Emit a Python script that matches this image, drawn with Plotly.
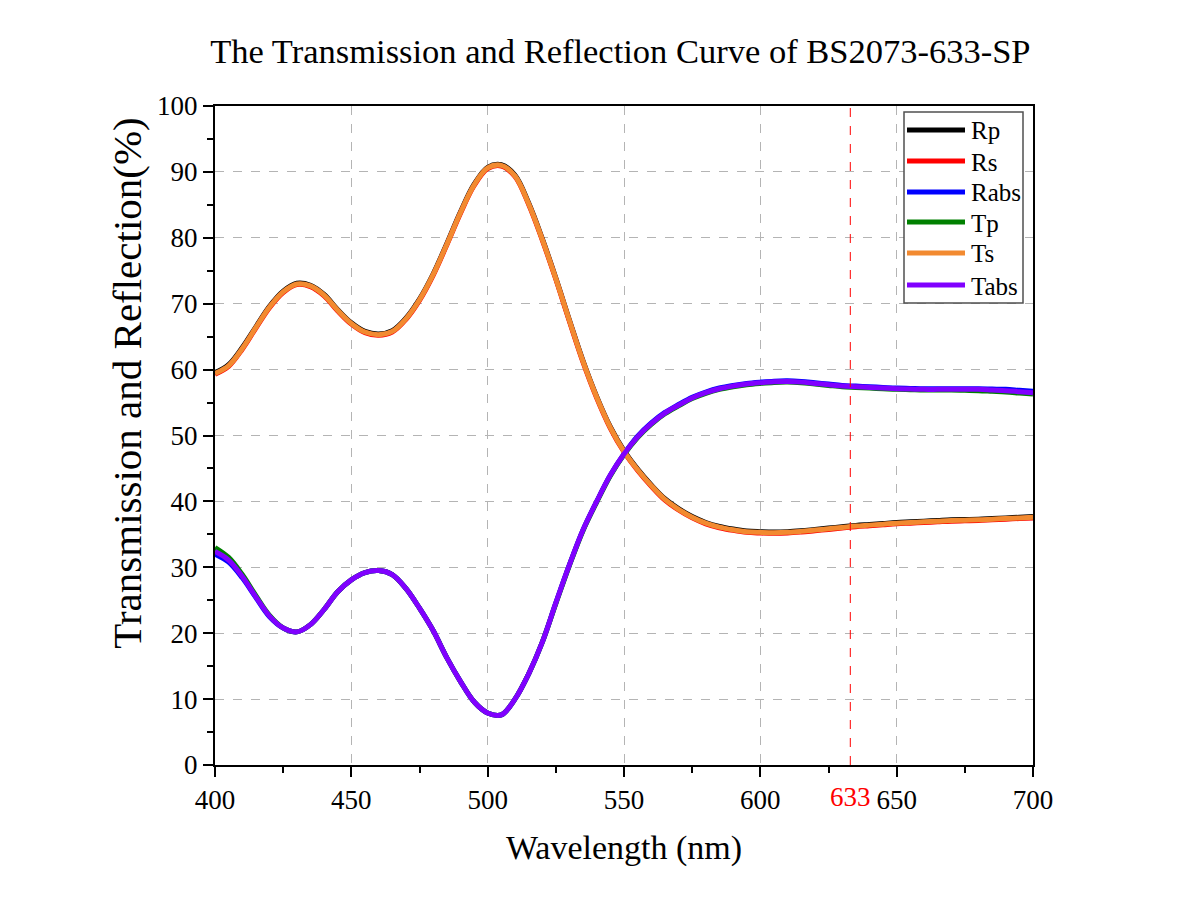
import plotly.graph_objects as go

wavelength = list(range(400, 701, 5))

Ts = [59.4, 60.6, 63.2, 66.4, 69.5, 71.8, 73.0, 72.7, 71.3, 69.0,
      67.0, 65.7, 65.3, 65.8, 67.7, 70.6, 74.4, 79.0, 83.8, 88.0,
      90.6, 91.0, 89.4, 85.2, 79.8, 73.8, 67.4, 61.2, 55.8, 51.2,
      47.6, 44.8, 42.4, 40.3, 38.8, 37.6, 36.7, 36.1, 35.7, 35.4,
      35.3, 35.25, 35.3, 35.45, 35.65, 35.85, 36.05, 36.25, 36.4, 36.55,
      36.7, 36.8, 36.9, 37.0, 37.1, 37.15, 37.2, 37.3, 37.4, 37.5, 37.6]
Rp = [59.5, 60.75, 63.35, 66.5, 69.6, 71.9, 73.1, 72.8, 71.4, 69.1,
      67.1, 65.8, 65.4, 65.9, 67.8, 70.7, 74.5, 79.1, 83.9, 88.1,
      90.7, 91.1, 89.5, 85.3, 79.9, 73.9, 67.5, 61.3, 55.9, 51.3,
      47.7, 44.9, 42.5, 40.4, 38.9, 37.7, 36.8, 36.2, 35.8, 35.5,
      35.4, 35.35, 35.4, 35.55, 35.75, 35.95, 36.15, 36.35, 36.5, 36.65,
      36.8, 36.9, 37.0, 37.1, 37.2, 37.25, 37.3, 37.4, 37.5, 37.6, 37.7]
Rs = [59.3, 60.5, 63.1, 66.3, 69.4, 71.7, 72.9, 72.6, 71.2, 68.9,
      66.9, 65.6, 65.2, 65.7, 67.6, 70.5, 74.3, 78.9, 83.7, 87.9,
      90.5, 90.9, 89.3, 85.1, 79.7, 73.7, 67.3, 61.1, 55.7, 51.1,
      47.5, 44.7, 42.3, 40.2, 38.7, 37.5, 36.6, 36.0, 35.6, 35.3,
      35.2, 35.15, 35.2, 35.35, 35.55, 35.75, 35.95, 36.15, 36.3, 36.45,
      36.6, 36.7, 36.8, 36.9, 37.0, 37.05, 37.1, 37.2, 37.3, 37.4, 37.5]

Tabs = [32.4, 31.1, 28.6, 25.5, 22.6, 20.8, 20.2, 21.3, 23.6, 26.3,
        28.1, 29.2, 29.5, 28.9, 26.8, 23.8, 20.4, 16.3, 12.7, 9.6,
        7.9, 7.6, 10.0, 13.8, 18.6, 24.6, 30.4, 35.7, 40.0, 44.0,
        47.2, 49.8, 51.8, 53.4, 54.6, 55.7, 56.5, 57.1, 57.5, 57.8,
        58.0, 58.15, 58.2, 58.1, 57.9, 57.7, 57.5, 57.4, 57.3, 57.2,
        57.1, 57.05, 57.0, 57.0, 57.0, 57.0, 57.0, 56.9, 56.8, 56.65, 56.5]
Tp = [33.0, 31.5, 28.9, 25.7, 22.7, 20.8, 20.2, 21.3, 23.6, 26.3,
      28.1, 29.2, 29.5, 28.9, 26.8, 23.8, 20.4, 16.3, 12.7, 9.6,
      7.9, 7.6, 10.0, 13.8, 18.6, 24.5, 30.3, 35.6, 39.9, 43.9,
      47.1, 49.7, 51.7, 53.3, 54.5, 55.6, 56.4, 57.0, 57.4, 57.7,
      57.9, 58.05, 58.1, 58.0, 57.8, 57.6, 57.4, 57.3, 57.2, 57.1,
      57.0, 56.95, 56.9, 56.9, 56.9, 56.85, 56.8, 56.7, 56.6, 56.45, 56.3]
Rabs = [32.0, 30.8, 28.4, 25.4, 22.5, 20.8, 20.2, 21.3, 23.6, 26.3,
        28.1, 29.2, 29.5, 28.9, 26.8, 23.8, 20.4, 16.3, 12.7, 9.6,
        7.9, 7.6, 10.0, 13.8, 18.6, 24.6, 30.4, 35.7, 40.0, 44.0,
        47.2, 49.9, 51.9, 53.5, 54.7, 55.8, 56.6, 57.2, 57.6, 57.9,
        58.1, 58.25, 58.3, 58.2, 58.0, 57.8, 57.6, 57.5, 57.4, 57.3,
        57.2, 57.15, 57.1, 57.1, 57.1, 57.1, 57.1, 57.05, 57.0, 56.85, 56.7]

series = [
    ("Rp", Rp, "#000000"),
    ("Rs", Rs, "#ff0000"),
    ("Rabs", Rabs, "#0000ff"),
    ("Tp", Tp, "#008000"),
    ("Ts", Ts, "#f28a30"),
    ("Tabs", Tabs, "#8000ff"),
]

x_ticks = [400, 450, 500, 550, 600, 650, 700]
y_ticks = [0, 10, 20, 30, 40, 50, 60, 70, 80, 90, 100]
marker_wl = 633

FONT = "Liberation Serif, Times New Roman, serif"

# plot-area geometry (pixels) for paper-coordinate helpers
PX0, PX1, PY0, PY1 = 215, 1033, 765, 106


def px_x(p):
    return (p - PX0) / (PX1 - PX0)


def px_y(p):
    return (PY0 - p) / (PY0 - PY1)


fig = go.Figure()
for name, vals, color in series:
    fig.add_trace(go.Scatter(
        x=wavelength, y=vals, name=name, mode="lines",
        line=dict(color=color, width=5, shape="spline", smoothing=1.0),
        showlegend=False,
    ))

fig.add_shape(type="line", xref="x", yref="paper", x0=marker_wl, x1=marker_wl,
              y0=0, y1=1, line=dict(color="#ff0000", width=1, dash="dash"))
fig.add_annotation(x=marker_wl, xref="x", y=-0.048, yref="paper", text=str(marker_wl),
                   showarrow=False, font=dict(family=FONT, size=27, color="#ff0000"),
                   yanchor="middle", xanchor="center")

# custom legend box
fig.add_shape(type="rect", xref="paper", yref="paper",
              x0=px_x(904), x1=px_x(1023), y0=px_y(303), y1=px_y(112),
              line=dict(color="#505050", width=1.5), fillcolor="#ffffff", layer="above")
row_y = [130, 161, 192, 222, 253, 285]
for (name, vals, color), ry in zip(series, row_y):
    fig.add_shape(type="line", xref="paper", yref="paper",
                  x0=px_x(907), x1=px_x(965), y0=px_y(ry), y1=px_y(ry),
                  line=dict(color=color, width=5), layer="above")
    fig.add_annotation(x=px_x(969), xref="paper", y=px_y(ry + 1), yref="paper",
                       text=name, showarrow=False, xanchor="left", yanchor="middle",
                       font=dict(family=FONT, size=25, color="#000000"))

fig.add_annotation(x=0.5, xref="paper", y=-0.126, yref="paper", text="Wavelength (nm)",
                   showarrow=False, font=dict(family=FONT, size=34, color="#000000"),
                   yanchor="middle", xanchor="center")
fig.add_annotation(x=-0.108, xref="paper", y=px_y(383), yref="paper",
                   text="Transmission and Reflection(%)", textangle=-90,
                   showarrow=False, font=dict(family=FONT, size=41, color="#000000"),
                   yanchor="middle", xanchor="center")

axis_common = dict(
    showline=True, linecolor="#000000", linewidth=2, mirror=True,
    ticks="outside", ticklen=10, tickwidth=2, tickcolor="#000000",
    showgrid=True, gridcolor="#b4b4b4", gridwidth=1, griddash="dash",
    zeroline=False,
    tickfont=dict(family=FONT, size=27, color="#000000"),
)

fig.update_xaxes(range=[400, 700], tickvals=x_ticks,
                 minor=dict(dtick=25, tick0=400, ticks="outside", ticklen=6,
                            tickwidth=2, tickcolor="#000000", showgrid=False),
                 **axis_common)
fig.update_yaxes(range=[0, 100], tickvals=y_ticks,
                 minor=dict(dtick=5, tick0=0, ticks="outside", ticklen=6,
                            tickwidth=2, tickcolor="#000000", showgrid=False),
                 **axis_common)

fig.update_layout(
    width=1200, height=918,
    margin=dict(l=215, r=167, t=106, b=153),
    paper_bgcolor="#ffffff", plot_bgcolor="#ffffff",
    title=dict(text="The Transmission and Reflection Curve of BS2073-633-SP",
               x=0.517, xanchor="center", y=0.945, yanchor="middle",
               font=dict(family=FONT, size=34.5, color="#000000")),
    showlegend=False,
)

fig.write_html("out.html")
